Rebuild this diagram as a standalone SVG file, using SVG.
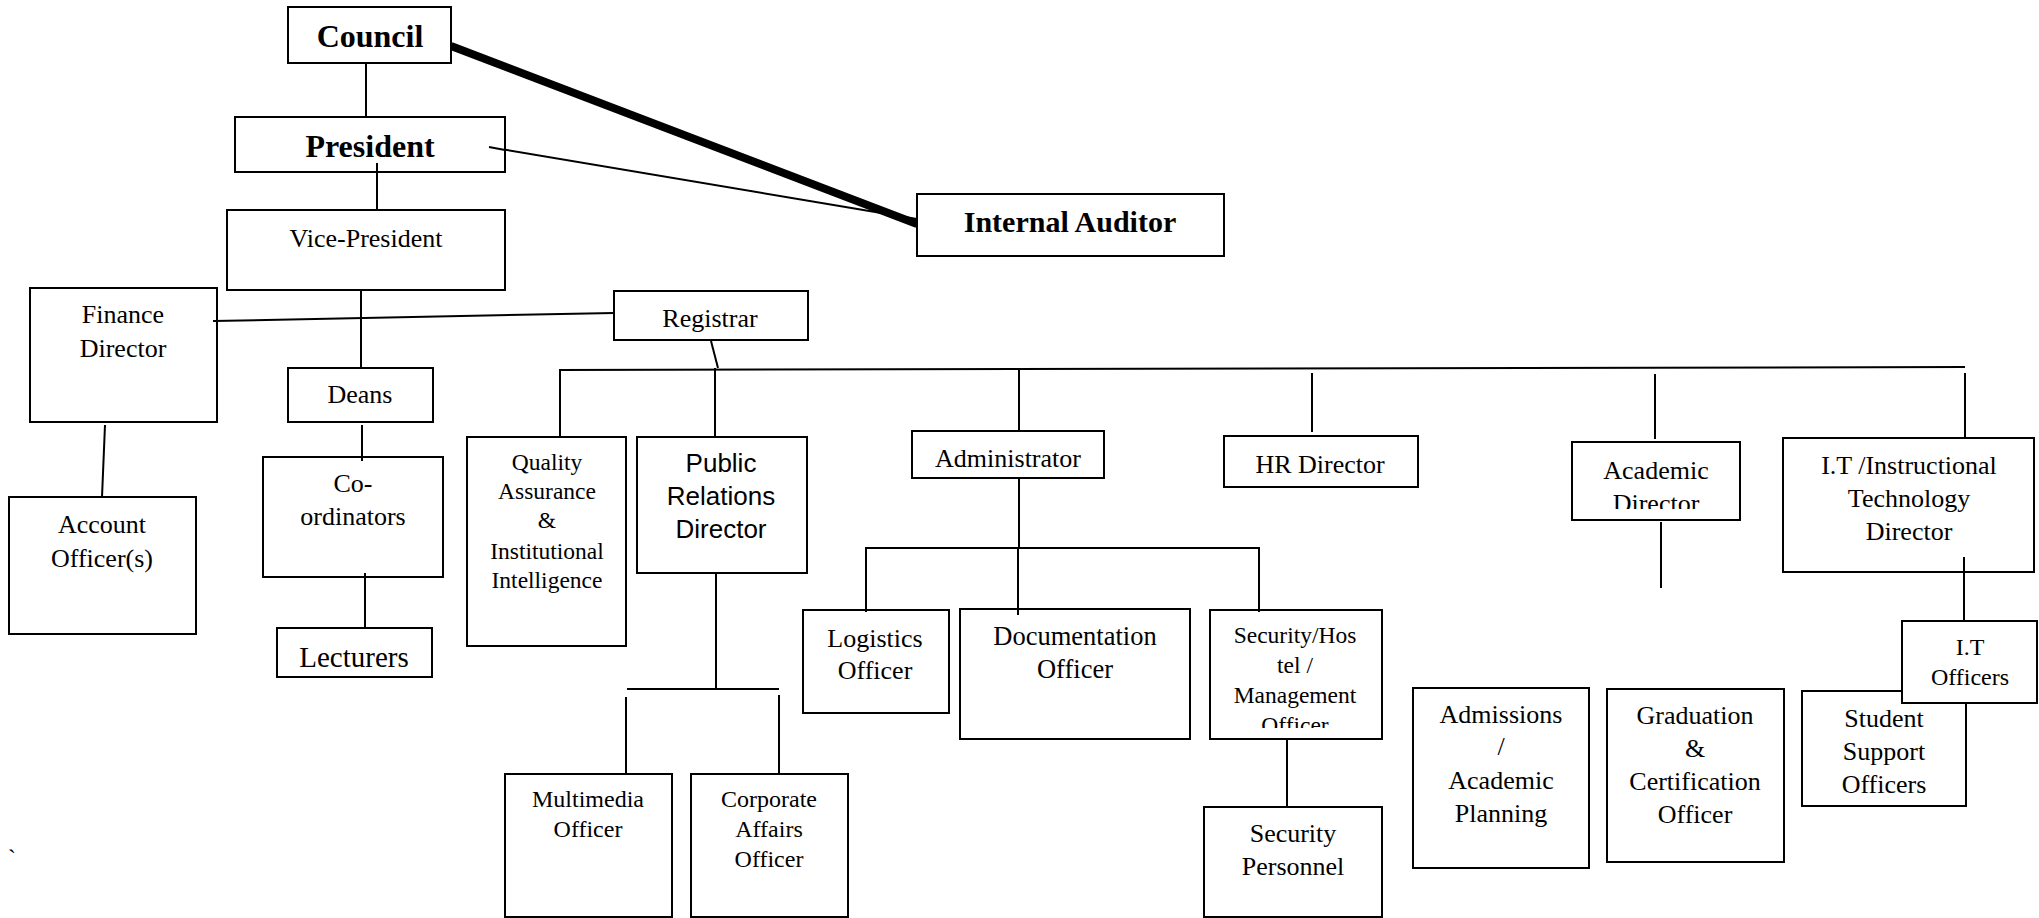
<svg xmlns="http://www.w3.org/2000/svg" width="2039" height="918" viewBox="0 0 2039 918">
<style>
.b{fill:#fff;stroke:#000;stroke-width:2}
.t{font-family:"Liberation Serif","Times New Roman",serif;font-size:26px;text-anchor:middle;fill:#000}
.bd{font-weight:bold}
.s{font-family:"Liberation Sans",Arial,sans-serif}
.c line{stroke:#000;stroke-width:2}
</style>
<defs>
<clipPath id="clipAcad"><rect x="1572" y="442" width="168" height="67"/></clipPath>
<clipPath id="clipSec"><rect x="1210" y="610" width="172" height="118"/></clipPath>
</defs>
<rect width="2039" height="918" fill="#fff"/>
<g class="c" id="connectors">
<line x1="366" y1="63" x2="366" y2="117"/>
<line x1="377" y1="163" x2="377" y2="210"/>
<line x1="451" y1="46" x2="917" y2="224" style="stroke-width:8"/>
<line x1="489" y1="147" x2="917" y2="219"/>
<line x1="361" y1="290" x2="361" y2="368"/>
<line x1="213" y1="321" x2="614" y2="313"/>
<line x1="105" y1="425" x2="102" y2="497"/>
<line x1="362" y1="425" x2="362" y2="461"/>
<line x1="365" y1="573" x2="365" y2="628"/>
<line x1="711" y1="341" x2="718" y2="368"/>
<line x1="559" y1="370" x2="1965" y2="367"/>
<line x1="560" y1="369" x2="560" y2="437"/>
<line x1="715" y1="368" x2="715" y2="437"/>
<line x1="1019" y1="368" x2="1019" y2="431"/>
<line x1="1312" y1="373" x2="1312" y2="432"/>
<line x1="1655" y1="374" x2="1655" y2="439"/>
<line x1="1965" y1="373" x2="1965" y2="438"/>
<line x1="1019" y1="478" x2="1019" y2="548"/>
<line x1="865" y1="548" x2="1260" y2="548"/>
<line x1="866" y1="547" x2="866" y2="612"/>
<line x1="1018" y1="548" x2="1018" y2="615"/>
<line x1="1259" y1="547" x2="1259" y2="612"/>
<line x1="1287" y1="739" x2="1287" y2="807"/>
<line x1="716" y1="572" x2="716" y2="689"/>
<line x1="627" y1="689" x2="779" y2="689"/>
<line x1="626" y1="697" x2="626" y2="774"/>
<line x1="779" y1="695" x2="779" y2="774"/>
<line x1="1661" y1="522" x2="1661" y2="588"/>
<line x1="1964" y1="557" x2="1964" y2="623"/>
</g>
<g id="council"><rect class="b" x="288" y="7" width="163" height="56"/><text class="t bd" x="370" y="47" style="font-size:32px">Council</text></g>
<g id="president"><rect class="b" x="235" y="117" width="270" height="55"/><text class="t bd" x="370" y="157" style="font-size:32px">President</text></g>
<line x1="377" y1="163" x2="377" y2="172" stroke="#000" stroke-width="2"/>
<line x1="489" y1="147" x2="505" y2="150" stroke="#000" stroke-width="2"/>
<g id="vice-president"><rect class="b" x="227" y="210" width="278" height="80"/><text class="t" x="366" y="247">Vice-President</text></g>
<g id="internal-auditor"><rect class="b" x="917" y="194" width="307" height="62"/><text class="t bd" x="1070" y="232" style="font-size:30px">Internal Auditor</text></g>
<g id="finance-director"><rect class="b" x="30" y="288" width="187" height="134"/><text class="t" x="123" y="323">Finance</text><text class="t" x="123" y="357">Director</text></g>
<line x1="213" y1="321" x2="217" y2="321" stroke="#000" stroke-width="2"/>
<g id="registrar"><rect class="b" x="614" y="291" width="194" height="49"/><text class="t" x="710" y="327">Registrar</text></g>
<g id="deans"><rect class="b" x="288" y="368" width="145" height="54"/><text class="t" x="360" y="403">Deans</text></g>
<g id="account-officers"><rect class="b" x="9" y="497" width="187" height="137"/><text class="t" x="102" y="533">Account</text><text class="t" x="102" y="567">Officer(s)</text></g>
<g id="coordinators"><rect class="b" x="263" y="457" width="180" height="120"/><text class="t" x="353" y="492">Co-</text><text class="t" x="353" y="525">ordinators</text></g>
<line x1="362" y1="457" x2="362" y2="461" stroke="#000" stroke-width="2"/>
<line x1="365" y1="573" x2="365" y2="577" stroke="#000" stroke-width="2"/>
<g id="lecturers"><rect class="b" x="277" y="628" width="155" height="49"/><text class="t" x="354" y="667" style="font-size:29px">Lecturers</text></g>
<g id="quality-assurance"><rect class="b" x="467" y="437" width="159" height="209"/>
<text class="t" x="547" y="470" style="font-size:23.5px">Quality</text>
<text class="t" x="547" y="499" style="font-size:23.5px">Assurance</text>
<text class="t" x="547" y="528" style="font-size:23.5px">&amp;</text>
<text class="t" x="547" y="559" style="font-size:23.5px">Institutional</text>
<text class="t" x="547" y="588" style="font-size:23.5px">Intelligence</text></g>
<g id="public-relations-director"><rect class="b" x="637" y="437" width="170" height="136"/>
<text class="t s" x="721" y="472">Public</text><text class="t s" x="721" y="505">Relations</text><text class="t s" x="721" y="538">Director</text></g>
<g id="administrator"><rect class="b" x="912" y="431" width="192" height="47"/><text class="t" x="1008" y="467">Administrator</text></g>
<g id="hr-director"><rect class="b" x="1224" y="436" width="194" height="51"/><text class="t" x="1320" y="473">HR Director</text></g>
<g id="academic-director"><rect class="b" x="1572" y="442" width="168" height="78"/><text class="t" x="1656" y="479">Academic</text><text class="t" x="1656" y="512" clip-path="url(#clipAcad)">Director</text></g>
<g id="it-director"><rect class="b" x="1783" y="438" width="251" height="134"/>
<text class="t" x="1909" y="474">I.T /Instructional</text><text class="t" x="1909" y="507">Technology</text><text class="t" x="1909" y="540">Director</text></g>
<line x1="1964" y1="557" x2="1964" y2="572" stroke="#000" stroke-width="2"/>
<g id="logistics-officer"><rect class="b" x="803" y="610" width="146" height="103"/><text class="t" x="875" y="647">Logistics</text><text class="t" x="875" y="679">Officer</text></g>
<line x1="866" y1="610" x2="866" y2="612" stroke="#000" stroke-width="2"/>
<g id="documentation-officer"><rect class="b" x="960" y="609" width="230" height="130"/><text class="t" x="1075" y="645" style="font-size:26.5px">Documentation</text><text class="t" x="1075" y="678" style="font-size:26.5px">Officer</text></g>
<line x1="1018" y1="609" x2="1018" y2="615" stroke="#000" stroke-width="2"/>
<g id="security-hostel-officer"><rect class="b" x="1210" y="610" width="172" height="129"/>
<text class="t" x="1295" y="643" style="font-size:23.5px">Security/Hos</text>
<text class="t" x="1295" y="673" style="font-size:23.5px">tel /</text>
<text class="t" x="1295" y="703" style="font-size:23.5px">Management</text>
<text class="t" x="1295" y="733" style="font-size:23.5px" clip-path="url(#clipSec)">Officer</text></g>
<line x1="1259" y1="610" x2="1259" y2="612" stroke="#000" stroke-width="2"/>
<g id="multimedia-officer"><rect class="b" x="505" y="774" width="167" height="143"/><text class="t" x="588" y="807" style="font-size:24px">Multimedia</text><text class="t" x="588" y="837" style="font-size:24px">Officer</text></g>
<g id="corporate-affairs-officer"><rect class="b" x="691" y="774" width="157" height="143"/><text class="t" x="769" y="807" style="font-size:24px">Corporate</text><text class="t" x="769" y="837" style="font-size:24px">Affairs</text><text class="t" x="769" y="867" style="font-size:24px">Officer</text></g>
<g id="security-personnel"><rect class="b" x="1204" y="807" width="178" height="110"/><text class="t" x="1293" y="842">Security</text><text class="t" x="1293" y="875">Personnel</text></g>
<g id="admissions"><rect class="b" x="1413" y="688" width="176" height="180"/>
<text class="t" x="1501" y="723">Admissions</text><text class="t" x="1501" y="755">/</text><text class="t" x="1501" y="789">Academic</text><text class="t" x="1501" y="822">Planning</text></g>
<g id="graduation-officer"><rect class="b" x="1607" y="689" width="177" height="173"/>
<text class="t" x="1695" y="724">Graduation</text><text class="t" x="1695" y="757">&amp;</text><text class="t" x="1695" y="790">Certification</text><text class="t" x="1695" y="823">Officer</text></g>
<g id="student-support-officers"><rect class="b" x="1802" y="691" width="164" height="115"/>
<text class="t" x="1884" y="727">Student</text><text class="t" x="1884" y="760">Support</text><text class="t" x="1884" y="793">Officers</text></g>
<g id="it-officers"><rect class="b" x="1902" y="621" width="135" height="82"/><text class="t" x="1970" y="655" style="font-size:24px">I.T</text><text class="t" x="1970" y="685" style="font-size:24px">Officers</text></g>
<text class="t" x="12" y="866" style="font-size:24px">`</text>
</svg>
